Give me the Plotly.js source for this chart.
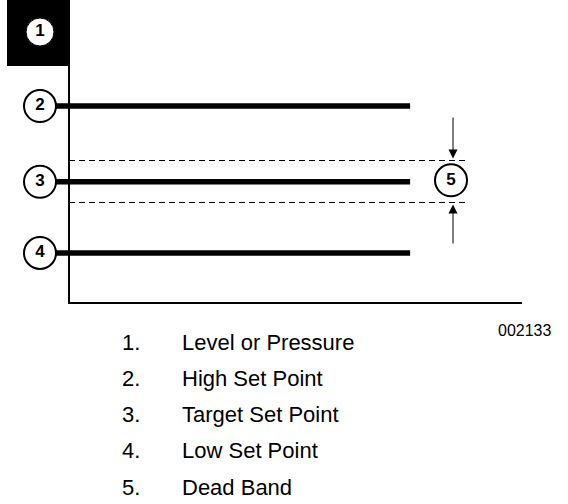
<!DOCTYPE html>
<html>
<head>
<meta charset="utf-8">
<script src="https://cdn.plot.ly/plotly-3.0.1.min.js"></script>
<style>html,body{margin:0;padding:0;background:#fff;}#chart{width:568px;height:504px;}</style>
</head>
<body>
<div id="chart"></div>
<script>
// ---- data ----
const levelNames = ["High Set Point", "Target Set Point", "Low Set Point"];
const levelNumbers = ["2", "3", "4"];
const levelValues = [6.5, 4.0, 1.65];
const deadBandUpper = 4.703;
const deadBandLower = 3.317;
const lineEnd = 7.53;
const axisMaxX = 10;
const axisMaxY = 10;
const legendNumbers = ["1.", "2.", "3.", "4.", "5."];
const legendLabels = ["Level or Pressure", "High Set Point", "Target Set Point", "Low Set Point", "Dead Band"];
const figureCode = "002133";

// ---- layout helpers (pixel mapping) ----
const W = 568, H = 504;
const ox = 69, oy = 303;       // origin pixel
const sx = 45.3, sy = 30.3;    // pixels per unit
const xr = [-ox / sx, (W - ox) / sx];
const yr = [(oy - H) / sy, oy / sy];
const vx = p => (p - ox) / sx;
const vy = p => (oy - p) / sy;

const labelX = vx(40);
const font = "Liberation Sans, Arial, Helvetica, sans-serif";
const traces = [];

// axes
traces.push({x:[0,0,axisMaxX],y:[axisMaxY,0,0],mode:"lines",line:{color:"#000",width:2},hoverinfo:"skip"});

// dead band dashed lines
[deadBandUpper, deadBandLower].forEach(v => {
  traces.push({x:[0, vx(465)], y:[v, v], mode:"lines", line:{color:"#000", width:1, dash:"6px,4px"}, hoverinfo:"skip"});
});

// set point lines
levelValues.forEach(v => {
  traces.push({x:[labelX, lineEnd], y:[v, v], mode:"lines", line:{color:"#000", width:5.5}, hoverinfo:"skip"});
});

// numbered circles
traces.push({x:levelValues.map(()=>labelX), y:levelValues, mode:"markers+text", text:levelNumbers,
  textposition:"middle center", textfont:{family:font, size:17, color:"#000", weight:"bold"},
  marker:{size:32, color:"#fff", line:{color:"#000", width:2}}, hoverinfo:"skip"});
traces.push({x:[vx(451)], y:[(deadBandUpper+deadBandLower)/2 + 0.04], mode:"markers+text", text:["5"],
  textposition:"middle center", textfont:{family:font, size:17, color:"#000", weight:"bold"},
  marker:{size:32, color:"#fff", line:{color:"#000", width:2}}, hoverinfo:"skip"});
traces.push({x:[vx(40)], y:[vy(32)], mode:"markers+text", text:["1"],
  textposition:"middle center", textfont:{family:font, size:17, color:"#000", weight:"bold"},
  marker:{size:28, color:"#fff", line:{color:"#000", width:1}}, hoverinfo:"skip"});

const annotations = [];
// dead band arrows
const ax = vx(453);
annotations.push({x:ax, y:deadBandUpper+0.07, ax:ax, ay:vy(116), xref:"x", yref:"y", axref:"x", ayref:"y",
  showarrow:true, arrowhead:2, arrowsize:1.8, arrowwidth:1, arrowcolor:"#000", text:""});
annotations.push({x:ax, y:deadBandLower-0.07, ax:ax, ay:vy(245), xref:"x", yref:"y", axref:"x", ayref:"y",
  showarrow:true, arrowhead:2, arrowsize:1.8, arrowwidth:1, arrowcolor:"#000", text:""});

// legend text
legendLabels.forEach((t, i) => {
  const yPix = 342 + i * 36.25;
  annotations.push({x:120/W, y:1 - yPix/H, xref:"paper", yref:"paper", xanchor:"left", yanchor:"middle",
    text:legendNumbers[i], showarrow:false, font:{family:font, size:22, color:"#000"}});
  annotations.push({x:180/W, y:1 - yPix/H, xref:"paper", yref:"paper", xanchor:"left", yanchor:"middle",
    text:t, showarrow:false, font:{family:font, size:22, color:"#000"}});
});
annotations.push({x:553/W, y:1 - 330/H, xref:"paper", yref:"paper", xanchor:"right", yanchor:"middle",
  text:figureCode, showarrow:false, font:{family:font, size:16, color:"#000"}});

const layout = {
  width:W, height:H, margin:{l:0,r:0,t:0,b:0}, showlegend:false,
  paper_bgcolor:"#fff", plot_bgcolor:"#fff",
  xaxis:{range:xr, visible:false, fixedrange:true},
  yaxis:{range:yr, visible:false, fixedrange:true},
  shapes:[{type:"rect", xref:"x", yref:"y", x0:vx(7), x1:0, y0:vy(66), y1:axisMaxY,
    fillcolor:"#000", line:{width:0}, layer:"below"}],
  annotations:annotations
};
Plotly.newPlot("chart", traces, layout, {staticPlot:true, displayModeBar:false});
</script>
</body>
</html>
